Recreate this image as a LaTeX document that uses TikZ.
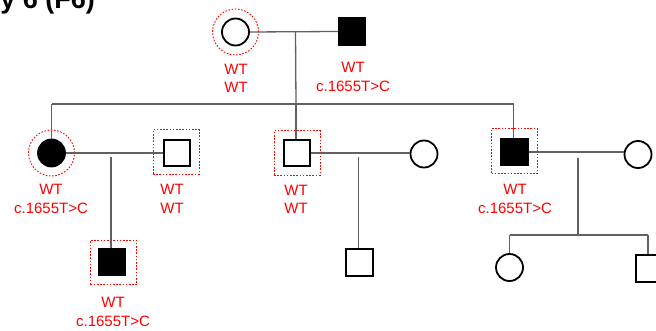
\documentclass[tikz,border=0pt]{standalone}
\usepackage{fontspec}
\setmainfont{Liberation Sans}
\begin{document}
\begin{tikzpicture}[x=1pt,y=-1pt,
  female/.style={circle,draw=black,line width=1.8pt,minimum size=27pt,inner sep=0pt},
  male/.style={rectangle,draw=black,line width=1.8pt,minimum size=26.5pt,inner sep=0pt},
  aff/.style={fill=black},
  ring/.style={circle,draw=red,line width=0.9pt,dash pattern=on 1.6pt off 1.6pt,minimum size=46pt,inner sep=0pt},
  sqbox/.style={rectangle,draw=red,line width=0.9pt,dash pattern=on 1.6pt off 1.6pt,minimum width=46pt,minimum height=44.5pt,inner sep=0pt},
  lbl/.style={text=red,anchor=base,inner sep=0pt,font=\fontsize{15}{18}\selectfont},
  conn/.style={draw={rgb,1:red,0.38;green,0.38;blue,0.38},line width=1.3pt}]
\useasboundingbox (0,0) rectangle (656,331);
\clip (0,0) rectangle (656,331);
\fill[white] (0,0) rectangle (656,331);
% title (cut off)
\node[anchor=base east,inner sep=0pt,font=\fontsize{27}{30}\selectfont\bfseries] (title) at (95,9) {y 6 (F6)};
% generation I
\node[ring] (gmr) at (235.5,32) {};
\node[female] (gm) at (235.5,32) {};
\node[male,aff] (gf) at (352,31.5) {};
\node[lbl] (gml1) at (236,75) {WT};
\node[lbl] (gml2) at (236,93) {WT};
\node[lbl] (gfl1) at (353,73) {WT};
\node[lbl] (gfl2) at (353,91.5) {c.1655T>C};
% generation II
\node[ring] (ar) at (51.5,153) {};
\node[female,aff] (a) at (51.5,153) {};
\node[sqbox] (hr) at (176,152) {};
\node[male] (h) at (177,153) {};
\node[sqbox] (br) at (297,153) {};
\node[male] (b) at (297,153) {};
\node[female] (bw) at (424,154) {};
\node[sqbox] (cr) at (514.5,151) {};
\node[male,aff] (c) at (514.5,152) {};
\node[female] (cw) at (638,154.5) {};
\node[lbl] (al1) at (51,195) {WT};
\node[lbl] (al2) at (51,214) {c.1655T>C};
\node[lbl] (hl1) at (172,195) {WT};
\node[lbl] (hl2) at (172,214) {WT};
\node[lbl] (bl1) at (296,195.5) {WT};
\node[lbl] (bl2) at (296,214) {WT};
\node[lbl] (cl1) at (515,195) {WT};
\node[lbl] (cl2) at (515,214) {c.1655T>C};
% generation III
\node[sqbox] (dr) at (113.5,262.5) {};
\node[male,aff] (d) at (112,262) {};
\node[lbl] (dl1) at (113,307) {WT};
\node[lbl] (dl2) at (113,326.5) {c.1655T>C};
\node[male] (e) at (359.5,262.5) {};
\node[female] (f) at (509.5,267.5) {};
\node[male] (g) at (649.5,268.5) {};
% connectors
\coordinate (m1) at (295.5,32);
\coordinate (s1a) at (51.5,104);
\coordinate (s1b) at (296,104);
\coordinate (s1c) at (513.5,104);
\draw[conn] (gm.east) -- (gf.west);
\draw[conn] (m1) -- (s1b);
\draw[conn] (s1a) -- (s1c);
\draw[conn] (s1a) -- (a.north);
\draw[conn] (s1b) -- (s1b |- b.north);
\draw[conn] (s1c) -- (s1c |- c.north);
\draw[conn] (a.east) -- (h.west);
\coordinate (m2) at (111,157);
\draw[conn] (m2) -- (m2 |- d.north);
\draw[conn] (b.east) -- (b.east -| bw.west);
\coordinate (m3) at (358.5,157);
\draw[conn] (m3) -- (m3 |- e.north);
\draw[conn] (c.east) -- (c.east -| cw.west);
\coordinate (m4) at (578,158);
\coordinate (s4) at (578,235);
\coordinate (s4a) at (509.5,235);
\coordinate (s4b) at (648,235);
\draw[conn] (m4) -- (s4);
\draw[conn] (s4a) -- (s4b);
\draw[conn] (s4a) -- (f.north);
\draw[conn] (s4b) -- (s4b |- g.north);
\end{tikzpicture}
\end{document}
